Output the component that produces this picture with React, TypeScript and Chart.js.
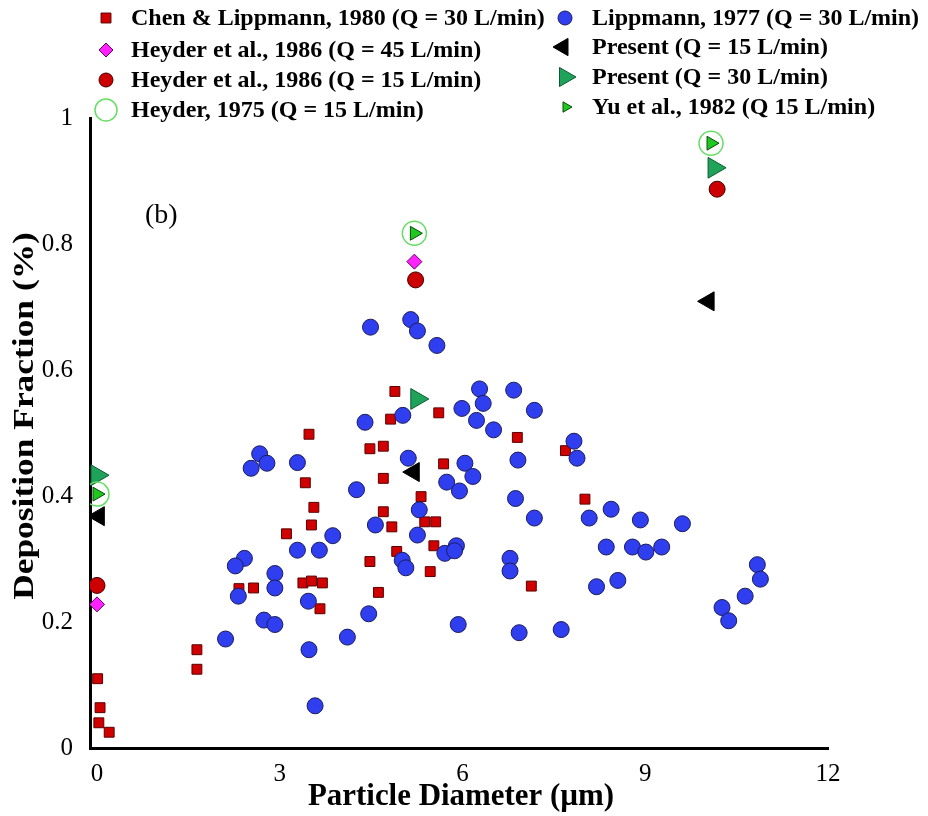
import React, { useEffect, useRef } from 'react';
import { Chart, registerables } from 'chart.js';

Chart.register(...registerables);

// ---- data ----
const chenX = [0.01, 0.05, 0.03, 0.2, 1.64, 1.64, 2.33, 2.57, 3.11, 3.38, 3.52, 3.7, 3.66, 3.42, 3.56, 3.52, 3.48, 4.48, 4.7, 4.7, 4.7, 4.84, 4.92, 4.48, 4.62, 4.89, 4.82, 5.61, 6.9, 7.69, 5.69, 5.32, 5.38, 5.56, 8.01, 5.53, 5.47, 7.13];
const chenY = [0.11, 0.064, 0.04, 0.025, 0.156, 0.125, 0.253, 0.254, 0.34, 0.262, 0.265, 0.262, 0.221, 0.421, 0.382, 0.354, 0.498, 0.475, 0.479, 0.428, 0.375, 0.351, 0.312, 0.296, 0.247, 0.566, 0.522, 0.532, 0.493, 0.472, 0.451, 0.399, 0.359, 0.359, 0.395, 0.321, 0.28, 0.257];

const lippX = [2.67, 2.53, 2.79, 3.29, 4.26, 4.57, 3.87, 3.29, 3.65, 2.42, 2.27, 2.92, 2.92, 2.32, 3.47, 2.74, 2.92, 4.46, 2.11, 4.11, 3.48, 3.58,
  4.49, 5.15, 5.26, 5.58, 6.28, 6.84, 6.34, 5.99, 7.18, 6.23, 4.4, 5.02, 6.51, 7.83, 7.88, 6.91, 5.11, 6.04, 6.17, 5.74, 5.95, 6.87, 5.29, 7.18, 8.08, 8.44, 5.26, 8.36, 5.9, 5.71, 5.87, 5.01, 5.07, 6.78, 6.78, 8.2, 8.55,
  8.92, 9.61, 8.79, 9.01, 9.27, 10.84, 10.89, 10.64, 10.26, 10.37, 7.62, 5.93, 6.93];
const lippY = [0.467, 0.444, 0.452, 0.453, 0.41, 0.354, 0.337, 0.314, 0.314, 0.301, 0.289, 0.277, 0.254, 0.241, 0.233, 0.203, 0.196, 0.213, 0.173, 0.176, 0.156, 0.067,
  0.668, 0.68, 0.662, 0.639, 0.57, 0.568, 0.547, 0.539, 0.536, 0.52, 0.517, 0.528, 0.505, 0.487, 0.46, 0.457, 0.46, 0.452, 0.431, 0.422, 0.408, 0.396, 0.378, 0.365, 0.365, 0.379, 0.338, 0.319, 0.321, 0.309, 0.313, 0.298, 0.286, 0.301, 0.281, 0.256, 0.266,
  0.362, 0.356, 0.319, 0.311, 0.319, 0.291, 0.268, 0.241, 0.223, 0.202, 0.188, 0.196, 0.183];

const heyder45X = [0, 5.21];
const heyder45Y = [0.228, 0.772];

const heyder15X = [0, 5.23, 10.18];
const heyder15Y = [0.258, 0.743, 0.887];

const heyder75X = [0, 5.21, 10.08];
const heyder75Y = [0.403, 0.817, 0.96];

const yuX = [0, 5.21, 10.08];
const yuY = [0.403, 0.817, 0.96];

const present15X = [0.03, 5.2, 10.04];
const present15Y = [0.368, 0.438, 0.709];

const present30X = [0, 5.25, 10.13];
const present30Y = [0.433, 0.554, 0.921];

const xTicks = [0, 3, 6, 9, 12];
const yTicks = [0, 0.2, 0.4, 0.6, 0.8, 1];

const xTitle = 'Particle Diameter (µm)';
const yTitle = 'Deposition Fraction (%)';
const panelLabel = '(b)';

const legendLabels = [
  'Chen & Lippmann, 1980 (Q = 30 L/min)',
  'Heyder et al., 1986 (Q = 45 L/min)',
  'Heyder et al., 1986 (Q = 15 L/min)',
  'Heyder, 1975 (Q = 15 L/min)',
  'Lippmann, 1977 (Q = 30 L/min)',
  'Present (Q = 15 L/min)',
  'Present (Q = 30 L/min)',
  'Yu et al., 1982 (Q 15 L/min)',
];

const pts = (xs: number[], ys: number[]) => xs.map((x, i) => ({ x, y: ys[i] }));

const SERIF = "'Liberation Serif', 'Times New Roman', serif";

function marker(ctx: CanvasRenderingContext2D, kind: string, x: number, y: number, r: number, fill: string, stroke: string, lw = 1) {
  ctx.save();
  ctx.beginPath();
  if (kind === 'rect') {
    const s = r * Math.SQRT1_2;
    ctx.rect(x - s, y - s, 2 * s, 2 * s);
  } else if (kind === 'diamond') {
    ctx.moveTo(x, y - r); ctx.lineTo(x + r, y); ctx.lineTo(x, y + r); ctx.lineTo(x - r, y); ctx.closePath();
  } else if (kind === 'circle') {
    ctx.arc(x, y, r, 0, Math.PI * 2);
  } else if (kind === 'right' || kind === 'left') {
    const d = kind === 'right' ? 1 : -1;
    const h = r * Math.sqrt(3) / 2;
    ctx.moveTo(x + d * r, y);
    ctx.lineTo(x - d * r / 2, y - h);
    ctx.lineTo(x - d * r / 2, y + h);
    ctx.closePath();
  }
  if (fill !== 'none') { ctx.fillStyle = fill; ctx.fill(); }
  ctx.lineWidth = lw; ctx.strokeStyle = stroke; ctx.stroke();
  ctx.restore();
}

const decorPlugin = {
  id: 'decor',
  afterDraw(chart: any) {
    const ctx: CanvasRenderingContext2D = chart.ctx;
    const area = chart.chartArea;
    ctx.save();
    ctx.font = `bold 24px ${SERIF}`;
    ctx.fillStyle = '#000';
    ctx.textBaseline = 'middle';
    ctx.textAlign = 'left';
    const c1 = [18, 50, 80, 110];
    const c2 = [18, 47, 77, 107];
    marker(ctx, 'rect', 106, c1[0], 7, '#d00000', '#5a0000');
    marker(ctx, 'diamond', 106, c1[1], 7, '#ff22ff', '#600060');
    marker(ctx, 'circle', 106, c1[2], 7, '#cc0000', '#400000');
    marker(ctx, 'circle', 106, c1[3], 11, 'none', '#66dd66', 1.5);
    for (let i = 0; i < 4; i++) ctx.fillText(legendLabels[i], 131, c1[i] + 1);
    marker(ctx, 'circle', 565, c2[0], 7, '#2f3ff0', '#1c1c5a');
    marker(ctx, 'left', 563, c2[1], 10, '#000', '#000');
    marker(ctx, 'right', 565, c2[2], 11, '#1fa35a', '#0d5a30');
    marker(ctx, 'right', 566, c2[3], 6, '#1ec81e', '#0a4a0a');
    for (let i = 0; i < 4; i++) ctx.fillText(legendLabels[4 + i], 592, c2[i] + 1);

    // panel label
    ctx.font = `28px ${SERIF}`;
    ctx.fillText(panelLabel, 145, 216);

    // axis titles
    ctx.textAlign = 'center';
    ctx.font = `bold 30px ${SERIF}`;
    ctx.save();
    ctx.translate((area.left + area.right) / 2 + 2, 797);
    ctx.scale(1.03, 1.05);
    ctx.fillText(xTitle, 0, 0);
    ctx.restore();

    ctx.save();
    ctx.translate(25, 416);
    ctx.rotate(-Math.PI / 2);
    ctx.scale(1.18, 1);
    ctx.fillText(yTitle, 0, 0);
    ctx.restore();
    ctx.restore();
  },
};

export default function App() {
  const ref = useRef<HTMLCanvasElement | null>(null);
  useEffect(() => {
    if (!ref.current) return;
    const common = { showLine: false, pointHoverRadius: 8 };
    const chart = new Chart(ref.current, {
      type: 'scatter',
      data: {
        datasets: [
          { ...common, label: legendLabels[7], data: pts(yuX, yuY), pointStyle: 'triangle', rotation: 90, pointRadius: 8, backgroundColor: '#1ec81e', borderColor: '#0a4a0a', borderWidth: 1 },
          { ...common, label: legendLabels[3], data: pts(heyder75X, heyder75Y), pointStyle: 'circle', pointRadius: 12, backgroundColor: 'rgba(255,255,255,0)', borderColor: '#66dd66', borderWidth: 1.5 },
          { ...common, label: legendLabels[6], data: pts(present30X, present30Y), pointStyle: 'triangle', rotation: 90, pointRadius: 12, backgroundColor: '#1fa35a', borderColor: '#0d5a30', borderWidth: 1 },
          { ...common, label: legendLabels[5], data: pts(present15X, present15Y), pointStyle: 'triangle', rotation: 270, pointRadius: 11, backgroundColor: '#000', borderColor: '#000', borderWidth: 1 },
          { ...common, label: legendLabels[2], data: pts(heyder15X, heyder15Y), pointStyle: 'circle', pointRadius: 8, backgroundColor: '#cc0000', borderColor: '#400000', borderWidth: 1 },
          { ...common, label: legendLabels[1], data: pts(heyder45X, heyder45Y), pointStyle: 'rectRot', pointRadius: 7.5, backgroundColor: '#ff22ff', borderColor: '#600060', borderWidth: 1 },
          { ...common, label: legendLabels[4], data: pts(lippX, lippY), pointStyle: 'circle', pointRadius: 8, backgroundColor: '#2f3ff0', borderColor: '#1c1c5a', borderWidth: 1 },
          { ...common, label: legendLabels[0], data: pts(chenX, chenY), pointStyle: 'rect', pointRadius: 7, backgroundColor: '#d00000', borderColor: '#5a0000', borderWidth: 1 },
        ],
      },
      options: {
        responsive: false,
        animation: false,
        layout: { padding: { top: 118, right: 100, left: 0, bottom: 0 } },
        plugins: { legend: { display: false }, tooltip: { enabled: false } },
        scales: {
          x: {
            type: 'linear',
            min: -0.115,
            max: 12,
            afterBuildTicks: (s: any) => { s.ticks = xTicks.map((v) => ({ value: v })); },
            afterFit: (s: any) => { s.height = 68; },
            grid: { display: false },
            border: { display: true, color: '#000', width: 3 },
            ticks: { color: '#000', font: { family: SERIF, size: 25 }, padding: 3, maxRotation: 0, callback: (v: any) => String(v) },
            title: { display: false },
          },
          y: {
            type: 'linear',
            min: 0,
            max: 1,
            afterBuildTicks: (s: any) => { s.ticks = yTicks.map((v) => ({ value: v })); },
            afterFit: (s: any) => { s.width = 90; },
            grid: { display: false },
            border: { display: true, color: '#000', width: 3 },
            ticks: { color: '#000', font: { family: SERIF, size: 25 }, padding: 9, callback: (v: any) => String(Math.round(v * 10) / 10) },
            title: { display: false },
          },
        },
      },
      plugins: [decorPlugin],
    });
    return () => chart.destroy();
  }, []);
  return (
    <div style={{ position: 'fixed', left: 0, top: 0, width: 928, height: 816, background: '#fff' }}>
      <canvas ref={ref} width={928} height={816} style={{ display: 'block' }} />
    </div>
  );
}
